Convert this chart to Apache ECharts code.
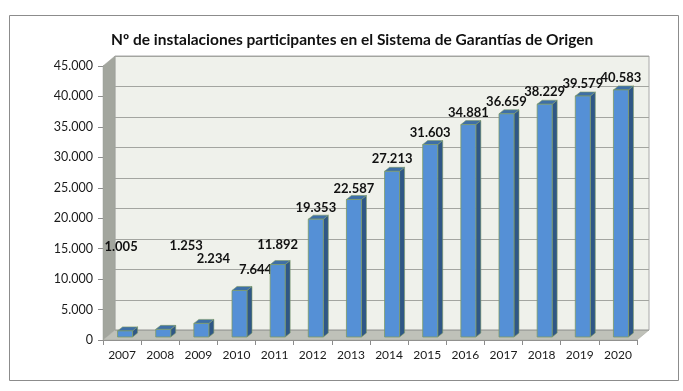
<!DOCTYPE html>
<html>
<head>
<meta charset="utf-8">
<script src="https://cdn.jsdelivr.net/npm/echarts@6/dist/echarts.min.js"></script>
<style>
html,body{margin:0;padding:0;background:#fff;}
#c{width:683px;height:391px;}
</style>
</head>
<body>
<div id="c"></div>
<script>
var years = ['2007','2008','2009','2010','2011','2012','2013','2014','2015','2016','2017','2018','2019','2020'];
var installations = [1005,1253,2234,7644,11892,19353,22587,27213,31603,34881,36659,38229,39579,40583];
var yTicks = [0,5000,10000,15000,20000,25000,30000,35000,40000,45000];
var titleText = 'Nº de instalaciones participantes en el Sistema de Garantías de Origen';

// label nudges (x, y in px) reproducing the reference's data label placement
var labelNudgeX = [-4,23,12,16,0,0,0,0,0,0,0,0,0,0];
var labelNudgeY = [-84,-84,-65,-21,-20,-11,-11,-12,-12,-12,-12,-12,-12,-12];

function fmt(v){
  var s = String(Math.round(v));
  return s.replace(/\B(?=(\d{3})+(?!\d))/g, '.');
}

var DX = 12, DY = -10;       // wall depth
var BDX = 5, BDY = -4;       // bar depth
var BOFF_X = 3, BOFF_Y = -3; // bar front offset into the depth
var BW = 15;
var FONT = 'Lato, "Noto Sans", sans-serif';

var chart = echarts.init(document.getElementById('c'), null, {renderer:'canvas'});

function renderWalls(params, api){
  var cs = params.coordSys;
  var x0 = cs.x, x1 = cs.x + cs.width, yT = cs.y, yB = cs.y + cs.height;
  var children = [];
  children.push({type:'polygon', shape:{points:[[x0+DX,yT+DY],[x1+DX,yT+DY],[x1+DX,yB+DY],[x0+DX,yB+DY]]},
    style:{fill:'#EFF1EB', stroke:'#A8A8A8', lineWidth:1}});
  children.push({type:'polygon', shape:{points:[[x0,yB],[x0,yT],[x0+DX,yT+DY],[x0+DX,yB+DY]]},
    style:{fill:'#A3A69E', stroke:'#9A9C95', lineWidth:0.5}});
  children.push({type:'polygon', shape:{points:[[x0,yB],[x1,yB],[x1+DX,yB+DY],[x0+DX,yB+DY]]},
    style:{fill:'#BFC1B9', stroke:'#A0A29B', lineWidth:0.5}});
  for (var i=0;i<yTicks.length;i++){
    var p = api.coord([0, yTicks[i]]);
    var y = Math.round(p[1]+DY)+0.5;
    children.push({type:'line', shape:{x1:x0+DX, y1:y, x2:x1+DX, y2:y},
      style:{stroke:'#A3A5A0', lineWidth:1}});
  }
  return {type:'group', children:children};
}

function renderBar(params, api){
  var idx = params.dataIndex;
  var top = api.coord([api.value(0), api.value(1)]);
  var base = api.coord([api.value(0), 0]);
  var cx = top[0] + BOFF_X;
  var xl = cx - BW/2, xr = cx + BW/2;
  var yt = top[1] + BOFF_Y, yb = base[1] + BOFF_Y;
  var edge = '#7E9A66';
  return {type:'group', children:[
    {type:'polygon', shape:{points:[[xr,yb],[xr,yt],[xr+BDX,yt+BDY],[xr+BDX,yb+BDY]]},
      style:{fill:'#2F5786', stroke:edge, lineWidth:0.6}},
    {type:'polygon', shape:{points:[[xl,yt],[xr,yt],[xr+BDX,yt+BDY],[xl+BDX,yt+BDY]]},
      style:{fill:'#3E6FA6', stroke:edge, lineWidth:0.6}},
    {type:'rect', shape:{x:xl, y:yt, width:BW, height:yb-yt},
      style:{fill:'#5590D6', stroke:edge, lineWidth:0.8}},
    {type:'text', style:{text:fmt(api.value(1)), x:cx+labelNudgeX[idx], y:yt+labelNudgeY[idx],
      align:'center', verticalAlign:'middle', fill:'#111', font:'bold 13px '+FONT}}
  ]};
}

chart.setOption({
  animation:false,
  backgroundColor:'#fff',
  title:{text:titleText, left:106, top:27,
    textStyle:{fontFamily:FONT, fontWeight:'bold', fontSize:15.5, color:'#111'}},
  graphic:[{type:'rect', left:7, top:13, shape:{width:669, height:365},
    style:{fill:null, stroke:'#8C8C8C', lineWidth:1}, z:100}],
  grid:{left:103, right:46, top:66, bottom:51, containLabel:false},
  xAxis:{type:'category', data:years,
    axisLine:{lineStyle:{color:'#8C8C8C'}},
    axisTick:{show:true, length:5, lineStyle:{color:'#8C8C8C'}},
    axisLabel:{fontFamily:FONT, fontSize:12, color:'#1a1a1a', margin:9}},
  yAxis:{type:'value', min:0, max:45000, interval:5000,
    axisLine:{show:true, lineStyle:{color:'#8C8C8C'}},
    axisTick:{show:true, length:5, lineStyle:{color:'#8C8C8C'}},
    splitLine:{show:false},
    axisLabel:{fontFamily:FONT, fontSize:12.5, color:'#1a1a1a', margin:10, formatter:function(v){return fmt(v);}}},
  series:[
    {type:'custom', renderItem:renderWalls, data:[[0,0]], z:1, silent:true, clip:false},
    {type:'custom', renderItem:renderBar, z:3, clip:false,
      data:years.map(function(y,i){return [i, installations[i]];})}
  ]
});
</script>
</body>
</html>
